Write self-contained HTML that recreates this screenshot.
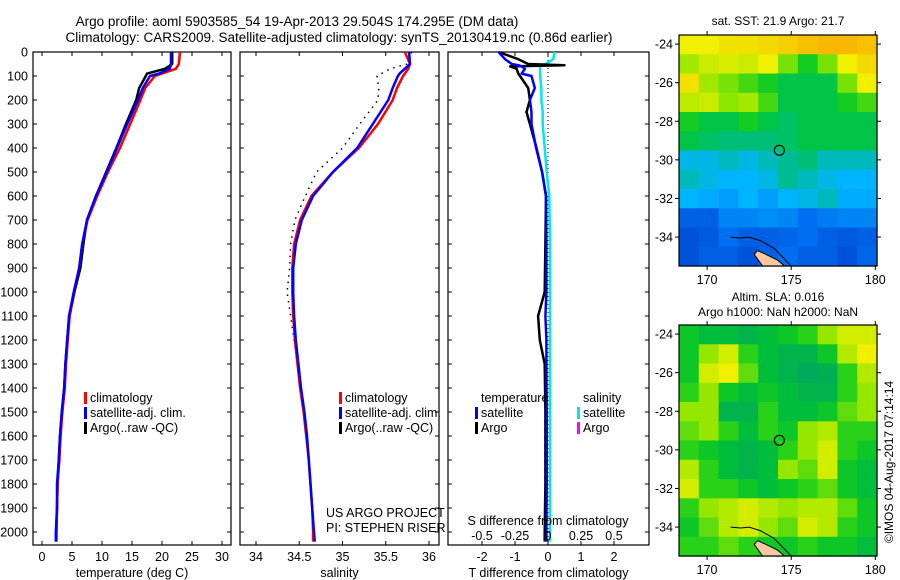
<!DOCTYPE html>
<html><head><meta charset="utf-8">
<style>
html,body{margin:0;padding:0;background:#fff;}
svg{display:block;font-family:"Liberation Sans",sans-serif;}
text{fill:#000;}
</style></head>
<body>
<svg id="c" width="900" height="580" viewBox="0 0 900 580" xmlns="http://www.w3.org/2000/svg">
<text x="297" y="26" font-size="13.5" text-anchor="middle">Argo profile: aoml 5903585_54 19-Apr-2013 29.504S 174.295E (DM data)</text>
<text x="339" y="42" font-size="13.5" text-anchor="middle">Climatology: CARS2009. Satellite-adjusted climatology: synTS_20130419.nc (0.86d earlier)</text>
<g id="g"></g>
</svg>
<script>
// ---- data ----
const depths = [0,50,70,90,100,150,200,300,400,500,600,700,800,900,1000,1100,1200,1300,1400,1500,1600,1700,1800,1900,2000,2040];
const tempClim = [23,22.8,22.3,20,18.8,17.2,16.4,14.7,13,11,9.2,7.6,6.7,6.2,5.3,4.6,4.3,4.0,3.8,3.4,3.1,2.9,2.6,2.5,2.4,2.4];
const tempSat = [21.5,21.5,21.3,19.5,18,16.8,16,14.2,12.5,10.8,9,7.5,6.7,6.2,5.3,4.5,4.2,3.9,3.7,3.3,3.0,2.8,2.5,2.5,2.3,2.3];
const tempArgo = [21.7,21.7,20.5,17.5,17.3,16.2,15.7,14,12.4,10.7,9,7.5,6.9,6.4,5.4,4.6,4.2,3.9,3.7,3.3,3.0,2.8,2.6,2.5,2.4,2.4];
const salClim = [35.72,35.78,35.76,35.72,35.70,35.63,35.58,35.41,35.19,34.89,34.64,34.51,34.44,34.42,34.42,34.43,34.45,34.48,34.51,34.55,34.58,34.61,34.63,34.65,34.66,34.66];
const salSat = [35.77,35.78,35.72,35.66,35.64,35.58,35.53,35.35,35.17,34.89,34.66,34.53,34.46,34.43,34.43,34.44,34.46,34.49,34.52,34.56,34.59,34.61,34.63,34.65,34.67,34.68];
const salArgo = [35.8,35.75,35.55,35.45,35.4,35.42,35.41,35.2,35.0,34.7,34.57,34.45,34.4,34.39,34.36,34.4,34.44,34.48,34.51,34.55,34.58,34.61,34.63,34.65,34.67,34.67];
const diffDepths = [0,30,50,55,60,70,90,100,150,200,250,300,400,500,600,800,1000,1100,1200,1300,1500,1800,2000,2040];
const tDiffSat = [-1.5,-1.3,-1.1,-0.9,-0.8,-0.7,-0.8,-0.5,-0.4,-0.55,-0.5,-0.5,-0.36,-0.18,-0.06,-0.05,-0.05,-0.08,-0.05,-0.05,-0.04,-0.04,-0.05,-0.05];
const tDiffArgo = [-1.5,-0.9,-0.6,0.5,-1.15,-0.95,-0.9,-0.85,-0.6,-0.55,-0.65,-0.55,-0.35,-0.18,-0.06,-0.08,-0.1,-0.3,-0.25,-0.1,-0.08,-0.08,-0.1,-0.1];
const sDiffSat = [0.05,0.04,-0.02,-0.05,-0.06,-0.06,-0.06,-0.06,-0.05,-0.05,-0.04,-0.04,-0.025,-0.01,0.01,0.015,0.015,0.015,0.015,0.015,0.015,0.015,0.015,0.015];
const depthTicks = [0,100,200,300,400,500,600,700,800,900,1000,1100,1200,1300,1400,1500,1600,1700,1800,1900,2000];
const tempTicks = [0,5,10,15,20,25,30];
const salTicks = [34,34.5,35,35.5,36];
const salTickLabels = ["34","34.5","35","35.5","36"];
const tdTicks = [-2,-1,0,1,2];
const sdTicks = [-0.5,-0.25,0,0.25,0.5];
const sdTickLabels = ["-0.5","-0.25","0","0.25","0.5"];
const lonTicks = [170,175,180];
const latTicks = [-24,-26,-28,-30,-32,-34];
const argoLon = 174.295, argoLat = -29.504;
const sstGrid = [
[0.85,0.85,0.88,0.88,0.9,0.92,0.95,0.97,0.97,0.95],
[0.75,0.8,0.82,0.8,0.85,0.7,0.6,0.7,0.85,0.9],
[0.88,0.75,0.7,0.65,0.6,0.55,0.55,0.55,0.7,0.85],
[0.78,0.8,0.72,0.75,0.65,0.55,0.55,0.55,0.6,0.65],
[0.6,0.55,0.55,0.6,0.55,0.52,0.55,0.55,0.55,0.55],
[0.55,0.52,0.5,0.5,0.5,0.52,0.55,0.55,0.55,0.55],
[0.42,0.42,0.45,0.42,0.45,0.48,0.5,0.45,0.45,0.45],
[0.45,0.42,0.4,0.4,0.42,0.48,0.45,0.42,0.4,0.4],
[0.4,0.38,0.35,0.4,0.35,0.4,0.42,0.45,0.38,0.38],
[0.2,0.2,0.3,0.3,0.32,0.3,0.25,0.28,0.3,0.3],
[0.15,0.18,0.25,0.2,0.2,0.22,0.25,0.2,0.18,0.2],
[0.15,0.2,0.2,0.15,0.2,0.25,0.2,0.2,0.15,0.22]];
const slaGrid = [
[0.55,0.5,0.5,0.45,0.5,0.55,0.6,0.7,0.8,0.8],
[0.55,0.7,0.8,0.6,0.5,0.45,0.45,0.55,0.75,0.85],
[0.55,0.8,0.85,0.65,0.5,0.45,0.4,0.42,0.6,0.75],
[0.6,0.7,0.55,0.5,0.55,0.5,0.45,0.45,0.6,0.7],
[0.7,0.7,0.45,0.45,0.6,0.5,0.5,0.55,0.65,0.7],
[0.65,0.7,0.6,0.5,0.6,0.55,0.7,0.75,0.6,0.6],
[0.6,0.55,0.5,0.45,0.5,0.6,0.7,0.8,0.6,0.55],
[0.75,0.6,0.5,0.45,0.5,0.7,0.65,0.8,0.55,0.5],
[0.8,0.6,0.6,0.55,0.5,0.55,0.6,0.65,0.55,0.5],
[0.6,0.7,0.75,0.8,0.75,0.7,0.75,0.75,0.65,0.55],
[0.55,0.65,0.75,0.8,0.7,0.65,0.8,0.75,0.6,0.55],
[0.6,0.6,0.65,0.6,0.55,0.55,0.6,0.55,0.55,0.5]];
const landLon = [173.0,173.5,174.2,174.6,173.3,172.8];
const landLat = [-34.7,-34.9,-35.2,-35.5,-35.5,-34.9];
const contourLon = [171.4,172.0,172.5,173.2,174.0,175.0];
const contourLat = [-34.0,-34.05,-34.0,-34.2,-34.6,-35.5];

// ---- axes ----
const NS="http://www.w3.org/2000/svg";
const G=document.getElementById('g');
const yD=d=>52+d*0.24;
const xT=v=>42+6*v;
const xS=v=>256+(v-34)*86.5;
const xTD=v=>548+33*v;
const xSD=v=>548+132*v;
const TOP=52,BOT=545;
function el(tag,attrs,parent){const e=document.createElementNS(NS,tag);for(const k in attrs)e.setAttribute(k,attrs[k]);(parent||G).appendChild(e);return e;}
function txt(x,y,s,size,anchor,parent){const t=el('text',{x:x,y:y,'font-size':size,'text-anchor':anchor||'middle'},parent);t.textContent=s;return t;}
function line(xs,ys,color,w,dash,parent){let d='';for(let i=0;i<xs.length;i++)d+=(i?'L':'M')+xs[i].toFixed(1)+','+ys[i].toFixed(1);return el('path',{d:d,fill:'none',stroke:color,'stroke-width':w,'stroke-dasharray':dash||'none','stroke-linejoin':'round'},parent);}

function panel(name,x0,x1,ticks,labels,xf,xlabel,showY){
  const g=el('g',{});
  
  
  el('rect',{x:x0,y:TOP,width:x1-x0,height:BOT-TOP,fill:'none',stroke:'#000','stroke-width':1.2},g);
  depthTicks.forEach(d=>{const y=yD(d);el('line',{x1:x0,y1:y,x2:x0+4,y2:y,stroke:'#000'},g);el('line',{x1:x1-4,y1:y,x2:x1,y2:y,stroke:'#000'},g);
    if(showY){const t=txt(28,y+4.5,String(d),12.5,'end',g);}});
  ticks.forEach((v,i)=>{const x=xf(v);el('line',{x1:x,y1:BOT,x2:x,y2:BOT-4,stroke:'#000'},g);el('line',{x1:x,y1:TOP,x2:x,y2:TOP+4,stroke:'#000'},g);
    const t=txt(x,561,labels[i],12.5,'middle',g);});
  const xl=txt((x0+x1)/2,577,xlabel,12.5,'middle',g);
  
  
  return g;
}
const p1=panel('temperature-panel',33,231,tempTicks,tempTicks.map(String),xT,'temperature (deg C)',true);
const p2=panel('salinity-panel',240,439,salTicks,salTickLabels,xS,'salinity',false);
const p3=panel('difference-panel',448,649,tdTicks,tdTicks.map(String),xTD,'T difference from climatology',false);

const Y=depths.map(yD);
let s;
s=line(tempArgo.map(xT),Y,'#000',2.5,null,p1);
s=line(tempClim.map(xT),Y,'#f00',2.5,null,p1);
s=line(tempSat.map(xT),Y,'#00f',2.5,null,p1);
s=line(salArgo.map(xS),Y,'#000',1.5,'1.5,5',p2);
s=line(salClim.map(xS),Y,'#f00',2.5,null,p2);
s=line(salSat.map(xS),Y,'#00f',2.5,null,p2);
const YD=diffDepths.map(yD);
s=el('line',{x1:xTD(0),y1:TOP,x2:xTD(0),y2:yD(2040),stroke:'#000','stroke-dasharray':'1,3'},p3);
s=line(sDiffSat.map(xSD),YD,'#00e8e8',2.5,null,p3);
s=line(tDiffArgo.map(xTD),YD,'#000',2.5,null,p3);
s=line(tDiffSat.map(xTD),YD,'#00f',2.5,null,p3);
s=txt(548,525,'S difference from climatology',12.5,'middle',p3);
sdTicks.forEach((v,i)=>{const t=txt(xSD(v),540,sdTickLabels[i],12.5,'middle',p3);});

function legend(g,x,y,items,name){
  const lg=el('g',{},g);
  
  
  items.forEach((it,i)=>{const yy=y+i*15;
    if(it[1]) el('rect',{x:x-6,y:yy-10,width:3,height:12,fill:it[1]},lg);
    txt(x,yy,it[0],12.5,'start',lg);});
}
const L=[['climatology','#f00'],['satellite-adj. clim.','#00f'],['Argo(..raw -QC)','#000']];
legend(p1,90,402,L,'temp-legend');
legend(p2,345,402,L,'sal-legend');
legend(p3,481,402,[['temperature',null],['satellite','#00f'],['Argo','#000']],'temp-diff-legend');
legend(p3,583,402,[['salinity',null],['satellite','#00e8e8'],['Argo','#f0f']],'sal-diff-legend');
s=txt(326,517,'US ARGO PROJECT',12.5,'start',p2);
s=txt(326,532,'PI: STEPHEN RISER',12.5,'start',p2);

// ---- maps ----
const sstStops=[[0,[0,40,180]],[0.25,[0,110,240]],[0.4,[0,180,255]],[0.5,[0,190,120]],[0.58,[0,200,40]],[0.72,[140,230,0]],[0.85,[240,240,0]],[1,[250,170,0]]];
const slaStops=[[0,[0,150,100]],[0.4,[0,170,90]],[0.5,[0,190,60]],[0.58,[20,205,30]],[0.7,[150,230,0]],[0.85,[240,240,0]],[1,[250,200,0]]];
function cmap(v,stops){
  for(let i=1;i<stops.length;i++){if(v<=stops[i][0]){const a=stops[i-1],b=stops[i];const t=(v-a[0])/(b[0]-a[0]);return 'rgb('+a[1].map((c,k)=>Math.round(c+(b[1][k]-c)*t)).join(',')+')';}}
  const l=stops[stops.length-1][1];return 'rgb('+l.join(',')+')';
}
function mapPanel(name,top,grid,stops,titleLines){
  const L0=168.33,L1=180.1,A0=-23.53,A1=-35.5;
  const left=679,right=877,bottom=top+231;
  const xL=v=>left+(v-L0)*(right-left)/(L1-L0);
  const yA=v=>top+(v-A0)*(bottom-top)/(A1-A0);
  const g=el('g',{});
  
  
  const nr=grid.length,nc=grid[0].length,dl=(L1-L0)/nc,da=(A1-A0)/nr;
  grid.forEach((row,r)=>row.forEach((v,c)=>{
    const x=xL(L0+c*dl),y=yA(A0+r*da);
    const cell=el('rect',{x:x.toFixed(1),y:y.toFixed(1),width:(xL(L0+(c+1)*dl)-x+0.6).toFixed(1),height:(yA(A0+(r+1)*da)-y+0.6).toFixed(1),fill:cmap(v,stops)},g);
    
    
  }));
  s=el('polygon',{points:landLon.map((v,i)=>xL(v).toFixed(1)+','+yA(landLat[i]).toFixed(1)).join(' '),fill:'#f8c8a0',stroke:'#000','stroke-width':1},g);
  
  s=line(contourLon.map(xL),contourLat.map(yA),'#000',1,null,g);
  s=el('circle',{cx:xL(argoLon),cy:yA(argoLat),r:5,fill:'none',stroke:'#000','stroke-width':1.2},g);
  
  el('rect',{x:left,y:top,width:right-left,height:bottom-top,fill:'none',stroke:'#000','stroke-width':1.2},g);
  lonTicks.forEach(v=>{const x=xL(v);el('line',{x1:x,y1:top,x2:x,y2:top-4,stroke:'#000'},g);el('line',{x1:x,y1:bottom,x2:x,y2:bottom+4,stroke:'#000'},g);
    const t=txt(x,bottom+18,String(v),12.5,'middle',g);});
  latTicks.forEach(v=>{const y=yA(v);el('line',{x1:left,y1:y,x2:left-4,y2:y,stroke:'#000'},g);el('line',{x1:right,y1:y,x2:right+4,y2:y,stroke:'#000'},g);
    const t=txt(673,y+4.5,String(v),12.5,'end',g);});
  titleLines.forEach((tl,i)=>{const t=txt(778,top-24+(titleLines.length===1?14:0)+i*15,tl,12,'middle',g);});
}
mapPanel('sst-map',35,sstGrid,sstStops,['sat. SST: 21.9 Argo: 21.7']);
mapPanel('sla-map',325,slaGrid,slaStops,['Altim. SLA: 0.016','Argo h1000: NaN h2000: NaN']);
s=txt(0,0,'©IMOS 04-Aug-2017 07:14:14',12,'middle');
s.setAttribute('transform','translate(893,462) rotate(-90)');


</script>
</body></html>
